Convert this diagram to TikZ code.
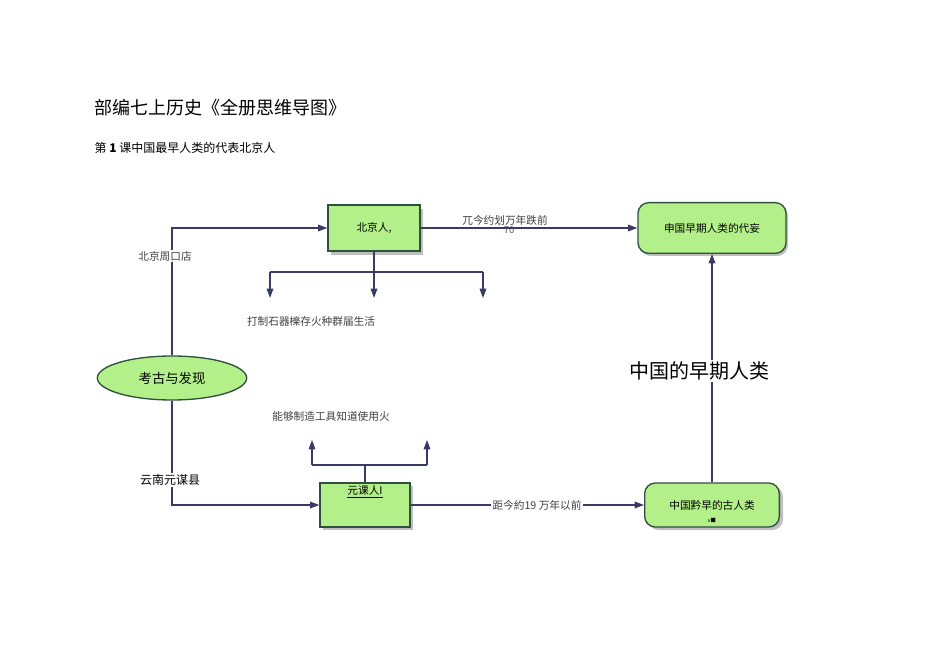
\documentclass[tikz,border=0pt]{standalone}
\usepackage{fontspec}
\setmainfont{Noto Sans CJK SC}
\usetikzlibrary{arrows.meta,shapes.geometric}
\definecolor{gfill}{HTML}{B4F08A}
\definecolor{gline}{HTML}{2F4F3F}
\definecolor{arr}{HTML}{1C1C5C}
\begin{document}
\begin{tikzpicture}[x=0.75pt,y=-0.75pt,
  con/.style={draw=arr!70!gray,line width=0.9pt},
  tip/.style={-{Triangle[length=7pt,width=5pt]}},
  gbox/.style={draw=gline,fill=gfill,line width=1pt,font=\fontsize{8}{9}\selectfont,inner sep=0pt},
  shad/.style={fill=gray!50},
  lbl/.style={fill=white,inner sep=1pt,font=\fontsize{8}{9}\selectfont,text=black!75}]
\useasboundingbox (0,0) rectangle (950,659);
\node[anchor=west,font=\fontsize{13.5}{15}\selectfont] (title) at (90,108) {部编七上历史《全册思维导图》};
\node[anchor=west,font=\fontsize{9}{10}\selectfont] (sub) at (90,148) {第 \textbf{1} 课中国最早人类的代表北京人};
% shadows
\fill[shad] (331,209) rectangle (423,255);
\fill[shad,rounded corners=8pt] (640,205) rectangle (788,256);
\fill[shad] (323,486) rectangle (413,530);
\fill[shad,rounded corners=8pt] (648,486) rectangle (783,530);
% boxes
\node[gbox,minimum width=69pt,minimum height=34.5pt] (bj) at (374,228) {北京人,};
\node[gbox,rounded corners=8pt,minimum width=111pt,minimum height=38pt] (tr) at (712,228) {申国早期人类的代妄};
\node[gbox,ellipse,minimum width=112pt,minimum height=33pt,font=\fontsize{10}{11}\selectfont] (ell) at (172,378) {考古与发现};
\node[gbox,minimum width=67.5pt,minimum height=33pt] (ym) at (365,505) {};
\node[font=\fontsize{8}{9}\selectfont] (ymt) at (365,492) {\underline{元课人I}};
\node[gbox,rounded corners=8pt,minimum width=101pt,minimum height=33pt] (br) at (712,505) {};
\node[font=\fontsize{8}{9}\selectfont] (brt) at (712,505) {中国黔早的古人类};
\node[font=\fontsize{4}{5}\selectfont] (brv) at (712,520) {v■};
% top connectors
\draw[con,tip] (ell.north) |- (bj.west);
\node[lbl] (l1) at (165,256) {北京周口店};
\draw[con,tip] (bj.east) -- (tr.west);
\node[lbl] (l2) at (505,220) {兀今约划万年跌前};
\node[font=\fontsize{7}{8}\selectfont,text=black!70,inner sep=0pt] (l70) at (509,230) {70};
\coordinate (j1) at (374,272);
\coordinate (a1) at (270,272);
\coordinate (a3) at (483,272);
\coordinate (e1) at (270,298);
\coordinate (e2) at (374,298);
\coordinate (e3) at (483,298);
\draw[con] (bj.south) -- (j1);
\draw[con] (a1) -- (a3);
\draw[con,tip] (a1) -- (e1);
\draw[con,tip] (j1) -- (e2);
\draw[con,tip] (a3) -- (e3);
\node[lbl] (l3) at (311,321) {打制石器櫟存火种群届生活};
% bottom connectors
\draw[con,tip] (ell.south) |- (ym.west);
\node[lbl,font=\fontsize{9}{10}\selectfont,text=black] (l4) at (170,480) {云南元谋县};
\coordinate (j2) at (365,465);
\coordinate (b1) at (312,465);
\coordinate (b2) at (427,465);
\coordinate (f1) at (312,440);
\coordinate (f2) at (427,440);
\draw[con] (ym.north) -- (j2);
\draw[con] (b1) -- (b2);
\draw[con,tip] (b1) -- (f1);
\draw[con,tip] (b2) -- (f2);
\node[lbl] (l5) at (331,416) {能够制造工具知道使用火};
\draw[con,tip] (ym.east) -- (br.west);
\node[lbl] (l6) at (537,505) {距今約19 万年以前};
\draw[con,tip] (br.north) -- (tr.south);
\node[fill=white,inner sep=1pt,font=\fontsize{15}{17}\selectfont] (l7) at (699,371) {中国的早期人类};
\end{tikzpicture}
\end{document}
